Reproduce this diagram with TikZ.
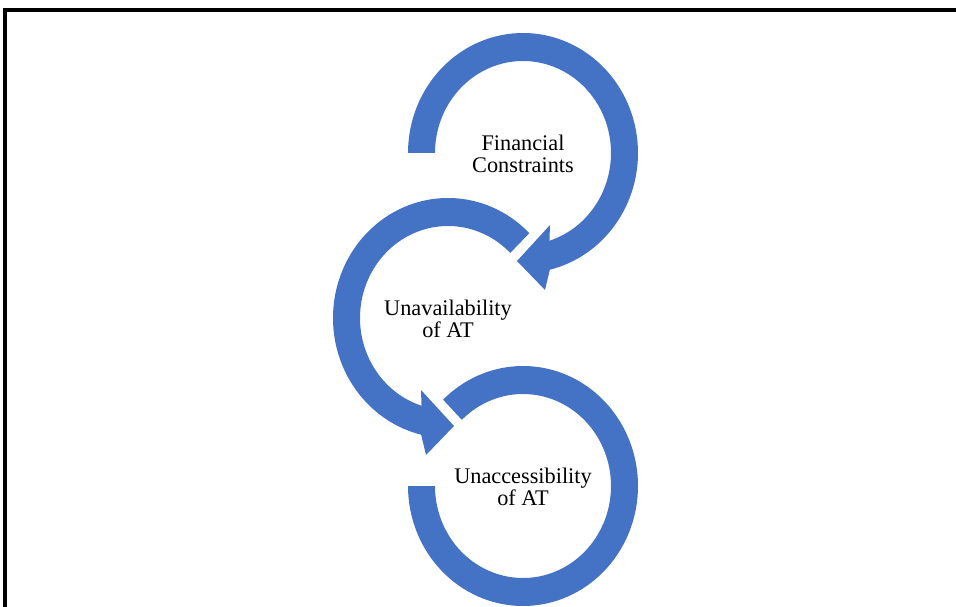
\documentclass[tikz,border=0pt]{standalone}
\usepackage{fontspec}
\setmainfont{Liberation Serif}
\definecolor{arblue}{RGB}{68,114,196}
\begin{document}
\begin{tikzpicture}[x=1pt,y=-1pt,
  arrowshape/.style={fill=arblue, draw=none},
  label/.style={align=center, inner sep=0pt, font=\fontsize{22.3}{22}\selectfont},
  frameline/.style={draw=black, line width=4pt, line join=miter}]
\useasboundingbox (0,0) rectangle (956,607);
% frame
\coordinate (fbl) at (5,607);
\coordinate (ftl) at (5,10);
\coordinate (ftr) at (956,10);
\draw[frameline] (fbl) -- (ftl) -- (ftr);
% circle 1 : Financial Constraints
\fill[arrowshape] plot[domain=180:436.5, samples=140] ({523+115*cos(\x)},{153+120*sin(\x)})
  -- (523+22,153+137) -- (523-6,153+108) -- (523+27,153+72)
  -- plot[domain=432.5:180, samples=140] ({523+88*cos(\x)},{153+92*sin(\x)}) -- cycle;
% circle 2 : Unavailability of AT
\fill[arrowshape] plot[domain=-45:-256.5, samples=140] ({448+115*cos(\x)},{318+120*sin(\x)})
  -- (448-22,318+137) -- (448+6,318+108) -- (448-27,318+72)
  -- plot[domain=-252.5:-45, samples=140] ({448+88*cos(\x)},{318+92*sin(\x)}) -- cycle;
% circle 3 : Unaccessibility of AT
\fill[arrowshape] plot[domain=-134:180, samples=160] ({523+115*cos(\x)},{486+120*sin(\x)})
  -- plot[domain=180:-134, samples=160] ({523+88*cos(\x)},{486+92*sin(\x)}) -- cycle;
% labels
\node[label] (fin) at (523,153.5) {Financial\\Constraints};
\node[label] (unav) at (448,318.5) {Unavailability\\of AT};
\node[label] (unacc) at (523,486.5) {Unaccessibility\\of AT};
\end{tikzpicture}
\end{document}
